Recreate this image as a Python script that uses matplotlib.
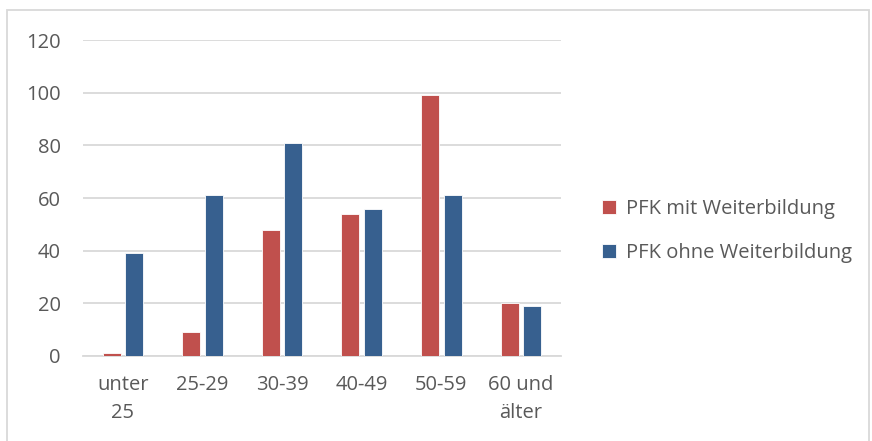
import matplotlib.pyplot as plt
import numpy as np
from matplotlib.patches import Rectangle

categories = ['unter\n25', '25-29', '30-39', '40-49', '50-59', '60 und\nälter']
mit_wb = [1, 9, 48, 54, 99, 20]
ohne_wb = [39, 61, 81, 56, 61, 19]
series_names = ['PFK mit Weiterbildung', 'PFK ohne Weiterbildung']
yticks = [0, 20, 40, 60, 80, 100, 120]

plt.rcParams['font.family'] = ['Open Sans', 'DejaVu Sans']
grey_text = '#595959'

fig = plt.figure(figsize=(8.72, 4.41), dpi=100)
ax = fig.add_axes([0.0952, 0.193, 0.548, 0.716])

x = np.arange(len(categories))
w = 0.226
off = 0.142
ax.bar(x - off, mit_wb, w, color='#C0504D', edgecolor='white', linewidth=0.6,
       label=series_names[0], zorder=3)
ax.bar(x + off, ohne_wb, w, color='#37608F', edgecolor='white', linewidth=0.6,
       label=series_names[1], zorder=3)

ax.set_xlim(-0.5, len(categories) - 0.5)
ax.set_ylim(0, 120)
ax.set_yticks(yticks)
ax.yaxis.grid(True, color='#D9D9D9', linewidth=1.3, zorder=0)
ax.set_axisbelow(True)
for s in ['top', 'right', 'left']:
    ax.spines[s].set_visible(False)
ax.spines['bottom'].set_color('#D9D9D9')
ax.spines['bottom'].set_linewidth(1.3)
ax.set_xticks(x)
ax.set_xticklabels(categories, linespacing=1.5)
ax.tick_params(axis='both', length=0, labelsize=14.5, colors=grey_text)
ax.tick_params(axis='x', pad=14)
ax.tick_params(axis='y', pad=16)
for lbl in ax.get_yticklabels():
    lbl.set_horizontalalignment('right')

fig.legend(loc='center left', bbox_to_anchor=(0.67, 0.476), frameon=False,
           fontsize=14.5, labelcolor=grey_text, handlelength=0.7, handleheight=0.7,
           handletextpad=0.45, labelspacing=1.2)

fig.patches.append(Rectangle((0.008, -0.01), 0.989, 0.987, transform=fig.transFigure,
                             fill=False, edgecolor='#D9D9D9', linewidth=1.3))

fig.savefig('out.png', dpi=100, facecolor='white')
